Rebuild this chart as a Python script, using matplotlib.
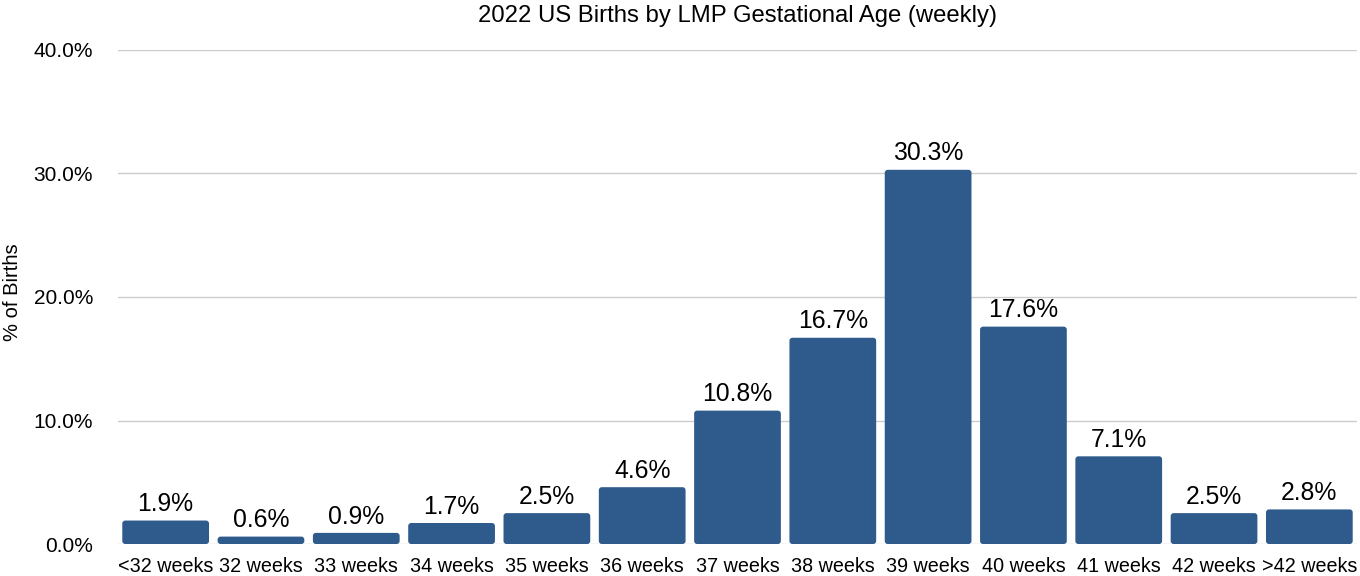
import matplotlib
matplotlib.use("Agg")
import matplotlib.pyplot as plt
from matplotlib.patches import FancyBboxPatch
from matplotlib.ticker import FuncFormatter

categories = ["<32 weeks", "32 weeks", "33 weeks", "34 weeks", "35 weeks", "36 weeks",
              "37 weeks", "38 weeks", "39 weeks", "40 weeks", "41 weeks", "42 weeks", ">42 weeks"]
values = [1.9, 0.6, 0.9, 1.7, 2.5, 4.6, 10.8, 16.7, 30.3, 17.6, 7.1, 2.5, 2.8]
yticks = [0, 10, 20, 30, 40]

plt.rcParams['font.family'] = ['Liberation Sans', 'DejaVu Sans']

W, H = 1360, 576
fig = plt.figure(figsize=(W / 100, H / 100), dpi=100)
left, right, bottom, top = 118, 1357, 544, 50
ax = fig.add_axes([left / W, 1 - bottom / H, (right - left) / W, (bottom - top) / H])

ax.set_xlim(-0.5, len(categories) - 0.5)
ax.set_ylim(0, 40)
color = "#2E5A8C"
bw = 0.91

px_x = (right - left) / len(categories)
px_y = (bottom - top) / 40.0
r_px = 3.0
rx = r_px / px_x
aspect = (r_px / px_y) / rx

for i, v in enumerate(values):
    p = FancyBboxPatch((i - bw / 2, 0), bw, v,
                       boxstyle=f"round,pad=0,rounding_size={rx}",
                       mutation_aspect=aspect, facecolor=color, edgecolor="none", zorder=3)
    ax.add_patch(p)
    ax.text(i, v + 0.35, f"{v:.1f}%", ha="center", va="bottom", fontsize=17.8, color="black", zorder=4)

ax.set_xticks(range(len(categories)))
ax.set_xticklabels(categories, fontsize=14.2)
ax.set_yticks(yticks)
ax.yaxis.set_major_formatter(FuncFormatter(lambda y, _: f"{y:.1f}%"))
ax.tick_params(axis="y", labelsize=15, length=0, pad=18)
ax.tick_params(axis="x", length=0, pad=9)
ax.grid(axis="y", color="#CCCCCC", linewidth=1, zorder=0)
for s in ax.spines.values():
    s.set_visible(False)
ax.set_ylabel("% of Births", fontsize=14.5)
ax.yaxis.set_label_coords(-(left - 22) / (right - left), (bottom - 292) / (bottom - top))
fig.text(737 / W, 1 - 16 / H, "2022 US Births by LMP Gestational Age (weekly)", ha="center", va="center", fontsize=17.2)

fig.savefig("out.png", dpi=100)
